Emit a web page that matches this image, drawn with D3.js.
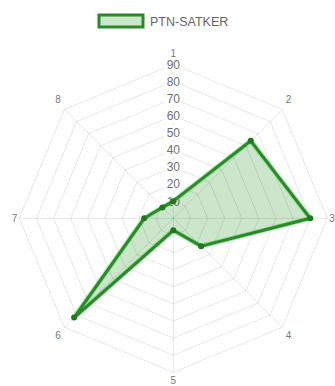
<!DOCTYPE html>
<html>
<head>
<meta charset="utf-8">
<script src="https://cdn.jsdelivr.net/npm/d3@7/dist/d3.min.js"></script>
<style>
  html, body { margin: 0; padding: 0; background: #fff; }
  svg { display: block; font-family: "Liberation Sans", Arial, Helvetica, sans-serif; }
</style>
</head>
<body>
<svg id="chart" width="335" height="386"></svg>
<script>
// Radar data
const axisLabels = ["1", "2", "3", "4", "5", "6", "7", "8"];
const seriesName = "PTN-SATKER";
const seriesValues = [10, 64, 80, 23, 7, 82, 17, 9];
const tickValues = [10, 20, 30, 40, 50, 60, 70, 80, 90];
const scaleMax = 90;

const width = 335, height = 386;
const cx = 173.3, cy = 218.3, outerR = 154;

const svg = d3.select("#chart");

const r = d3.scaleLinear().domain([0, scaleMax]).range([0, outerR]);
const angle = d3.scalePoint().domain(axisLabels).range([0, 2 * Math.PI * (axisLabels.length - 1) / axisLabels.length]);

const pt = (a, rad) => [cx + rad * Math.sin(a), cy - rad * Math.cos(a)];

const g = svg.append("g");

// Concentric octagon grid
const ringLine = d3.line();
g.append("g").selectAll("path")
  .data(tickValues)
  .join("path")
  .attr("d", v => ringLine(axisLabels.map(k => pt(angle(k), r(v)))) + "Z")
  .attr("fill", "none")
  .attr("stroke", "rgba(0,0,0,0.1)")
  .attr("stroke-width", 1);

// Spokes
g.append("g").selectAll("line")
  .data(axisLabels)
  .join("line")
  .attr("x1", cx).attr("y1", cy)
  .attr("x2", k => pt(angle(k), r(scaleMax))[0])
  .attr("y2", k => pt(angle(k), r(scaleMax))[1])
  .attr("stroke", "rgba(0,0,0,0.1)")
  .attr("stroke-width", 1);

// Tick labels with white backdrops on the vertical axis
const ticks = g.append("g").selectAll("g")
  .data(tickValues)
  .join("g")
  .attr("transform", v => `translate(${cx},${cy - r(v)})`);
ticks.append("rect")
  .attr("x", -9).attr("y", -7).attr("width", 18).attr("height", 14)
  .attr("fill", "#fff");
ticks.append("text")
  .attr("text-anchor", "middle")
  .attr("dy", "0.36em")
  .attr("font-size", 12)
  .attr("fill", "#707070")
  .text(v => v);

// Axis (point) labels
g.append("g").selectAll("text")
  .data(axisLabels)
  .join("text")
  .each(function (k) {
    const a = angle(k);
    const deg = Math.round(a * 180 / Math.PI);
    const horizontal = deg === 90 || deg === 270;
    const [x, y] = pt(a, outerR + (horizontal ? 2 : 5));
    let anchor = "middle", yy = y;
    if (deg === 0) { yy = y - 6; }
    else if (deg === 180) { yy = y + 3; }
    else if (horizontal) { anchor = deg === 90 ? "start" : "end"; }
    else {
      anchor = deg < 180 ? "start" : "end";
      yy = (deg < 90 || deg > 270) ? y - 6 : y + 5;
    }
    d3.select(this)
      .attr("x", x).attr("y", yy)
      .attr("text-anchor", anchor)
      .attr("dy", "0.35em");
  })
  .attr("font-size", 10)
  .attr("fill", "#777")
  .text(k => k);

// Dataset polygon
const pts = axisLabels.map((k, i) => pt(angle(k), r(seriesValues[i])));
const poly = d3.line()(pts) + "Z";
g.append("path")
  .attr("d", poly)
  .attr("fill", "rgba(0,128,0,0.2)")
  .attr("stroke", "rgba(110,210,110,0.6)")
  .attr("stroke-width", 5)
  .attr("stroke-linejoin", "miter");
g.append("path")
  .attr("d", poly)
  .attr("fill", "none")
  .attr("stroke", "#2a8a2a")
  .attr("stroke-width", 3)
  .attr("stroke-linejoin", "miter");
g.append("g").selectAll("circle")
  .data(pts)
  .join("circle")
  .attr("cx", d => d[0]).attr("cy", d => d[1])
  .attr("r", 3)
  .attr("fill", "#1f7a1f");

// Legend
const legend = svg.append("g").attr("transform", "translate(99,15)");
legend.append("rect")
  .attr("width", 44).attr("height", 12)
  .attr("fill", "rgba(0,128,0,0.2)")
  .attr("stroke", "#2a8a2a")
  .attr("stroke-width", 3);
legend.append("text")
  .attr("x", 51).attr("y", 6)
  .attr("dy", "0.36em")
  .attr("font-size", 12.5)
  .attr("fill", "#666")
  .text(seriesName);
</script>
</body>
</html>
